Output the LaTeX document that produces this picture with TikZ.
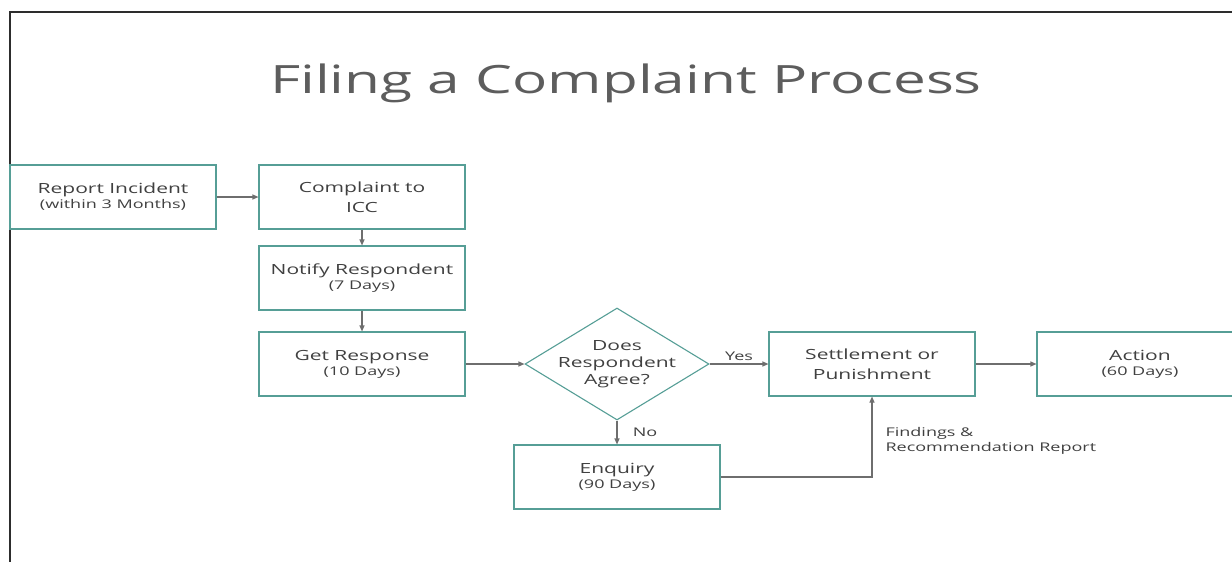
\documentclass[tikz,border=0pt]{standalone}
\usepackage{fontspec}
\setmainfont{Open Sans}[FakeStretch=1.5]
\usetikzlibrary{arrows.meta,positioning,shapes.geometric}
\definecolor{boxline}{RGB}{86,158,150}
\definecolor{ink}{RGB}{64,64,64}
\definecolor{wire}{RGB}{110,110,110}
\tikzset{>/.tip={Triangle[length=6pt,width=5pt]}}
\tikzset{stage/.style={draw=boxline,line width=1.1pt,minimum width=206pt,minimum height=64pt,
    align=center,text=ink,font=\fontsize{14}{20}\selectfont}}
\tikzset{query/.style={stage,shape=diamond,aspect=1.64,inner sep=-3pt,
    minimum width=184pt,minimum height=112pt,font=\fontsize{14}{17}\selectfont}}
\newcommand\days[1]{\\[-5pt]{\fontsize{12}{14}\selectfont(#1)}}

\begin{document}
\begin{tikzpicture}[x=1pt,y=-1pt,on grid]
        \useasboundingbox (0,0) rectangle (1232,562);
        \draw[line width=2pt,ink!70!black] (1232,12) -| (10,562);
        \node(title) at (626,83) [text=ink!85,font=\fontsize{39}{40}\selectfont]{Filing a Complaint Process};
        \node(report)[stage] at (113,197) {Report Incident\days{within 3 Months}};
        \node(icc)[stage,right=249pt of report]{Complaint to\\ICC};
        \node(notify)[stage,below=81pt of icc]{Notify Respondent\days{7 Days}};
        \node(resp)[stage,below=86pt of notify]{Get Response\days{10 Days}};
        \node(agree)[query,right=255pt of resp]{Does\\Respondent\\Agree?};
        \node(settle)[stage,right=255pt of agree]{Settlement or\\Punishment};
        \node(action)[stage,right=268pt of settle]{Action\days{60 Days}};
        \node(enq)[stage,below=113pt of agree]{Enquiry\days{90 Days}};
        \node(report2)[anchor=west,align=left,text=ink,font=\fontsize{12}{15}\selectfont]
            at (882,441) {Findings \&\\Recommendation Report};
        \draw[wire,line width=1.1pt,->,font=\fontsize{12}{14}\selectfont]
        (report) edge (icc)
        (icc) edge (notify)
        (notify) edge (resp)
        (resp) edge (agree)
        (agree) edge node[above,text=ink]{Yes} (settle)
        (agree) edge node[right=12pt,text=ink]{No} (enq)
        (settle) edge (action);
        \draw[wire,line width=1.1pt,->] (enq.east) -| (settle.south);
      \end{tikzpicture}
\end{document}
